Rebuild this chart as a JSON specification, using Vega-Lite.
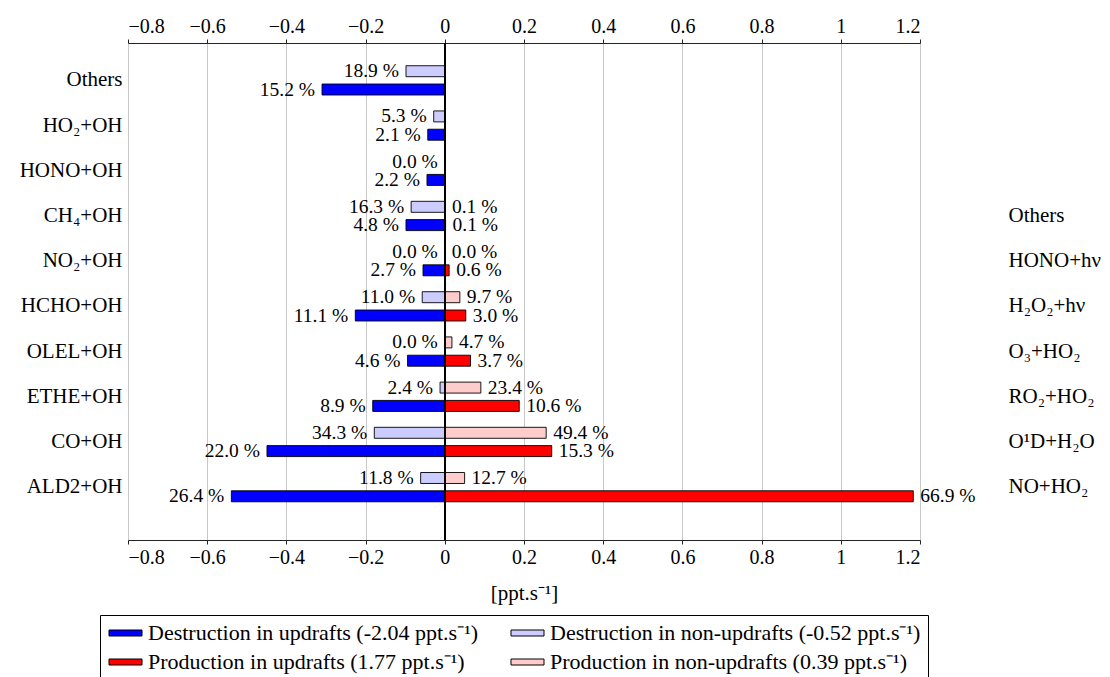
{
  "$schema": "https://vega.github.io/schema/vega-lite/v6.json",
  "width": 792,
  "height": 497,
  "autosize": {"type": "none"},
  "padding": {"left": 128, "top": 43, "right": 190, "bottom": 137},
  "config": {
    "font": "Liberation Serif",
    "view": {"stroke": null},
    "axis": {
      "labelFont": "Liberation Serif",
      "labelFontSize": 20,
      "labelColor": "black",
      "titleFont": "Liberation Serif",
      "titleFontSize": 21,
      "titleFontWeight": "normal",
      "titleColor": "black"
    },
    "legend": {
      "labelFont": "Liberation Serif",
      "labelFontSize": 22,
      "labelColor": "black"
    }
  },
  "data": {
    "values": [
      {"r": "Others", "g": "up", "s": "DU", "k": "D", "v": -0.310, "t": "15.2 %"},
      {"r": "HO₂+OH", "g": "up", "s": "DU", "k": "D", "v": -0.043, "t": "2.1 %"},
      {"r": "HONO+OH", "g": "up", "s": "DU", "k": "D", "v": -0.045, "t": "2.2 %"},
      {"r": "CH₄+OH", "g": "up", "s": "DU", "k": "D", "v": -0.098, "t": "4.8 %"},
      {"r": "NO₂+OH", "g": "up", "s": "DU", "k": "D", "v": -0.055, "t": "2.7 %"},
      {"r": "HCHO+OH", "g": "up", "s": "DU", "k": "D", "v": -0.226, "t": "11.1 %"},
      {"r": "OLEL+OH", "g": "up", "s": "DU", "k": "D", "v": -0.094, "t": "4.6 %"},
      {"r": "ETHE+OH", "g": "up", "s": "DU", "k": "D", "v": -0.182, "t": "8.9 %"},
      {"r": "CO+OH", "g": "up", "s": "DU", "k": "D", "v": -0.449, "t": "22.0 %"},
      {"r": "ALD2+OH", "g": "up", "s": "DU", "k": "D", "v": -0.539, "t": "26.4 %"},
      {"r": "Others", "g": "non", "s": "DN", "k": "D", "v": -0.098, "t": "18.9 %"},
      {"r": "HO₂+OH", "g": "non", "s": "DN", "k": "D", "v": -0.028, "t": "5.3 %"},
      {"r": "HONO+OH", "g": "non", "s": "DN", "k": "D", "v": 0, "t": "0.0 %"},
      {"r": "CH₄+OH", "g": "non", "s": "DN", "k": "D", "v": -0.085, "t": "16.3 %"},
      {"r": "NO₂+OH", "g": "non", "s": "DN", "k": "D", "v": 0, "t": "0.0 %"},
      {"r": "HCHO+OH", "g": "non", "s": "DN", "k": "D", "v": -0.057, "t": "11.0 %"},
      {"r": "OLEL+OH", "g": "non", "s": "DN", "k": "D", "v": 0, "t": "0.0 %"},
      {"r": "ETHE+OH", "g": "non", "s": "DN", "k": "D", "v": -0.012, "t": "2.4 %"},
      {"r": "CO+OH", "g": "non", "s": "DN", "k": "D", "v": -0.178, "t": "34.3 %"},
      {"r": "ALD2+OH", "g": "non", "s": "DN", "k": "D", "v": -0.061, "t": "11.8 %"},
      {"r": "CH₄+OH", "g": "up", "s": "PU", "k": "P", "v": 0.002, "t": "0.1 %"},
      {"r": "NO₂+OH", "g": "up", "s": "PU", "k": "P", "v": 0.011, "t": "0.6 %"},
      {"r": "HCHO+OH", "g": "up", "s": "PU", "k": "P", "v": 0.053, "t": "3.0 %"},
      {"r": "OLEL+OH", "g": "up", "s": "PU", "k": "P", "v": 0.065, "t": "3.7 %"},
      {"r": "ETHE+OH", "g": "up", "s": "PU", "k": "P", "v": 0.188, "t": "10.6 %"},
      {"r": "CO+OH", "g": "up", "s": "PU", "k": "P", "v": 0.270, "t": "15.3 %"},
      {"r": "ALD2+OH", "g": "up", "s": "PU", "k": "P", "v": 1.183, "t": "66.9 %"},
      {"r": "CH₄+OH", "g": "non", "s": "PN", "k": "P", "v": 0.0004, "t": "0.1 %"},
      {"r": "NO₂+OH", "g": "non", "s": "PN", "k": "P", "v": 0, "t": "0.0 %"},
      {"r": "HCHO+OH", "g": "non", "s": "PN", "k": "P", "v": 0.038, "t": "9.7 %"},
      {"r": "OLEL+OH", "g": "non", "s": "PN", "k": "P", "v": 0.018, "t": "4.7 %"},
      {"r": "ETHE+OH", "g": "non", "s": "PN", "k": "P", "v": 0.091, "t": "23.4 %"},
      {"r": "CO+OH", "g": "non", "s": "PN", "k": "P", "v": 0.256, "t": "49.4 %"},
      {"r": "ALD2+OH", "g": "non", "s": "PN", "k": "P", "v": 0.050, "t": "12.7 %"}
    ]
  },
  "resolve": {"axis": {"x": "independent", "y": "independent"}},
  "layer": [
    {
      "mark": {"type": "bar", "stroke": "black", "strokeWidth": 0.9},
      "encoding": {
        "x": {
          "field": "v", "type": "quantitative",
          "scale": {"domain": [-0.8, 1.2], "nice": false, "zero": false},
          "axis": {
            "orient": "bottom",
            "values": [-0.8, -0.6, -0.4, -0.2, 0, 0.2, 0.4, 0.6, 0.8, 1, 1.2],
            "format": ".1~f",
            "grid": true, "gridColor": "#c8c8c8", "gridWidth": 1,
            "domainColor": "#222", "domainWidth": 1,
            "tickColor": "#222", "tickSize": 4,
            "labelPadding": 3,
            "title": "[ppt.s⁻¹]", "titlePadding": 15
          }
        },
        "y": {
          "field": "r", "type": "nominal",
          "sort": ["Others", "HO₂+OH", "HONO+OH", "CH₄+OH", "NO₂+OH", "HCHO+OH", "OLEL+OH", "ETHE+OH", "CO+OH", "ALD2+OH"],
          "scale": {"paddingInner": 0, "paddingOuter": 0.498, "align": 0.328},
          "axis": {"orient": "left", "title": null, "ticks": false, "domain": false, "labelPadding": 6, "labelLimit": 300, "labelFontSize": 21}
        },
        "yOffset": {
          "field": "g", "type": "nominal", "sort": ["non", "up"],
          "scale": {"paddingInner": 0.4, "paddingOuter": 0.435}
        },
        "color": {
          "field": "s", "type": "nominal",
          "scale": {"domain": ["DU", "DN", "PU", "PN"], "range": ["#0000ff", "#ccccff", "#ff0000", "#ffcccc"]},
          "legend": {
            "orient": "none", "legendX": -28, "legendY": 572,
            "title": null, "columns": 2, "direction": "horizontal",
            "strokeColor": "black", "fillColor": "white", "padding": 7,
            "columnPadding": 30, "rowPadding": 7,
            "labelLimit": 600, "labelOffset": 19,
            "symbolType": "M-3,-1L8,-1L8,1L-3,1Z",
            "symbolSize": 36, "symbolStrokeColor": "black", "symbolStrokeWidth": 1,
            "symbolOpacity": 1,
            "labelExpr": "datum.value == 'DU' ? 'Destruction in updrafts (-2.04 ppt.s⁻¹)' : datum.value == 'DN' ? 'Destruction in non-updrafts (-0.52 ppt.s⁻¹)' : datum.value == 'PU' ? 'Production in updrafts (1.77 ppt.s⁻¹)' : 'Production in non-updrafts (0.39 ppt.s⁻¹)'"
          }
        }
      }
    },
    {
      "transform": [{"filter": "datum.k == 'D'"}],
      "mark": {"type": "text", "align": "right", "baseline": "middle", "dx": -7, "fontSize": 19.5, "font": "Liberation Serif", "color": "black"},
      "encoding": {
        "x": {
          "field": "v", "type": "quantitative",
          "axis": {
            "orient": "top",
            "values": [-0.8, -0.6, -0.4, -0.2, 0, 0.2, 0.4, 0.6, 0.8, 1, 1.2],
            "format": ".1~f",
            "grid": false,
            "domainColor": "#222", "domainWidth": 1,
            "tickColor": "#222", "tickSize": 4,
            "labelPadding": 3,
            "title": null
          }
        },
        "y": {
          "field": "r", "type": "nominal",
          "sort": ["Others", "HO₂+OH", "HONO+OH", "CH₄+OH", "NO₂+OH", "HCHO+OH", "OLEL+OH", "ETHE+OH", "CO+OH", "ALD2+OH"],
          "axis": {
            "orient": "right", "title": null, "ticks": false, "domain": false,
            "labelPadding": 88, "labelAlign": "left", "labelLimit": 300, "labelFontSize": 21,
            "labelExpr": "datum.value == 'CH₄+OH' ? 'Others' : datum.value == 'NO₂+OH' ? 'HONO+hν' : datum.value == 'HCHO+OH' ? 'H₂O₂+hν' : datum.value == 'OLEL+OH' ? 'O₃+HO₂' : datum.value == 'ETHE+OH' ? 'RO₂+HO₂' : datum.value == 'CO+OH' ? 'O¹D+H₂O' : datum.value == 'ALD2+OH' ? 'NO+HO₂' : ''"
          }
        },
        "yOffset": {"field": "g", "type": "nominal", "sort": ["non", "up"]},
        "text": {"field": "t", "type": "nominal"}
      }
    },
    {
      "transform": [{"filter": "datum.k == 'P'"}],
      "mark": {"type": "text", "align": "left", "baseline": "middle", "dx": 7, "fontSize": 19.5, "font": "Liberation Serif", "color": "black"},
      "encoding": {
        "x": {"field": "v", "type": "quantitative", "axis": null},
        "y": {
          "field": "r", "type": "nominal",
          "sort": ["Others", "HO₂+OH", "HONO+OH", "CH₄+OH", "NO₂+OH", "HCHO+OH", "OLEL+OH", "ETHE+OH", "CO+OH", "ALD2+OH"],
          "axis": null
        },
        "yOffset": {"field": "g", "type": "nominal", "sort": ["non", "up"]},
        "text": {"field": "t", "type": "nominal"}
      }
    },
    {
      "mark": {"type": "rule", "color": "black", "strokeWidth": 1},
      "encoding": {
        "x": {"datum": 0, "type": "quantitative", "axis": null}
      }
    }
  ]
}
